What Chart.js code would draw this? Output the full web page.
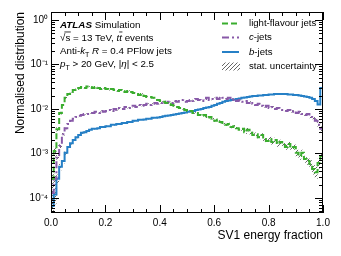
<!DOCTYPE html>
<html><head><meta charset="utf-8">
<script src="https://cdn.jsdelivr.net/npm/chart.js@4/dist/chart.umd.min.js"></script>
<style>html,body{margin:0;padding:0;background:#fff;}canvas{display:block;}</style>
</head><body>
<canvas id="c" width="341" height="256" style="width:341px;height:256px"></canvas>
<script>
// ---- data (bins of width 0.01 on [0,1]) ----
const binEdges = Array.from({length: 101}, (_, i) => i / 100);
const seriesLabels = ['light-flavour jets', 'c-jets', 'b-jets', 'stat. uncertainty'];
const xTickValues = [0, 0.2, 0.4, 0.6, 0.8, 1.0];
const xTickLabels = ['0.0', '0.2', '0.4', '0.6', '0.8', '1.0'];
const yTickValues = [1e-4, 1e-3, 1e-2, 1e-1, 1];
const yTickLabels = ['10⁻⁴', '10⁻³', '10⁻²', '10⁻¹', '10⁰'];

const lightJets = [
 0.00027,0.00114,0.0035,0.0081,0.0123,0.0177,0.0217,0.0241,0.0267,0.0281,
 0.0296,0.0312,0.0296,0.0320,0.0312,0.0296,0.0312,0.0296,0.0281,0.0296,
 0.0281,0.0267,0.0281,0.0267,0.0254,0.0267,0.0254,0.0241,0.0254,0.0241,
 0.0229,0.0217,0.0206,0.0217,0.0196,0.0186,0.0186,0.0177,0.0168,0.0159,
 0.0151,0.0144,0.0136,0.0130,0.0123,0.0117,0.0111,0.0105,0.0100,0.0095,
 0.0090,0.0090,0.0081,0.0081,0.0073,0.0070,0.0073,0.0063,0.0066,0.0060,
 0.0054,0.0057,0.0051,0.0048,0.0044,0.0046,0.0039,0.0041,0.0037,0.0034,
 0.0036,0.0030,0.0034,0.0029,0.0026,0.0027,0.0023,0.0026,0.0021,0.0019,
 0.0021,0.0018,0.0020,0.00163,0.0018,0.00155,0.00140,0.00163,0.00133,0.00140,
 0.00103,0.00088,0.00103,0.00075,0.00068,0.00058,0.00045,0.00038,0.00061,0.00088
];
const cJets = [
 0.00013,0.00027,0.00080,0.00147,0.0027,0.0037,0.0046,0.0054,0.0060,0.0066,
 0.0070,0.0073,0.0077,0.0077,0.0081,0.0081,0.0086,0.0081,0.0090,0.0086,
 0.0090,0.0095,0.0090,0.0100,0.0095,0.0105,0.0100,0.0111,0.0105,0.0111,
 0.0117,0.0111,0.0123,0.0117,0.0123,0.0130,0.0123,0.0130,0.0136,0.0130,
 0.0136,0.0144,0.0136,0.0144,0.0136,0.0151,0.0144,0.0151,0.0159,0.0144,
 0.0151,0.0159,0.0151,0.0168,0.0159,0.0151,0.0168,0.0177,0.0159,0.0168,
 0.0177,0.0168,0.0186,0.0177,0.0168,0.0177,0.0159,0.0168,0.0151,0.0159,
 0.0144,0.0151,0.0136,0.0144,0.0130,0.0123,0.0130,0.0117,0.0111,0.0117,
 0.0105,0.0111,0.0100,0.0105,0.0095,0.0095,0.0090,0.0095,0.0086,0.0090,
 0.0081,0.0086,0.0077,0.0073,0.0077,0.0066,0.0063,0.0054,0.0044,0.0036
];
const bJets = [
 0.000066,0.00012,0.00027,0.00050,0.00068,0.00103,0.00140,0.0017,0.0020,0.0023,
 0.0026,0.0029,0.0030,0.0032,0.0034,0.0036,0.0036,0.0037,0.0039,0.0039,
 0.0041,0.0041,0.0044,0.0044,0.0046,0.0046,0.0048,0.0048,0.0051,0.0051,
 0.0054,0.0054,0.0057,0.0057,0.0058,0.0060,0.0060,0.0063,0.0063,0.0064,
 0.0066,0.0068,0.0070,0.0071,0.0073,0.0075,0.0077,0.0079,0.0081,0.0083,
 0.0086,0.0088,0.0090,0.0095,0.0097,0.0100,0.0105,0.0108,0.0111,0.0117,
 0.0123,0.0130,0.0136,0.0144,0.0151,0.0155,0.0159,0.0163,0.0168,0.0172,
 0.0177,0.0181,0.0186,0.0191,0.0196,0.0196,0.0201,0.0201,0.0206,0.0206,
 0.0212,0.0212,0.0217,0.0217,0.0217,0.0217,0.0217,0.0212,0.0212,0.0206,
 0.0206,0.0201,0.0196,0.0191,0.0186,0.0177,0.0168,0.0151,0.0125,0.0296
];
// relative statistical uncertainty per bin
const lightErr = [
 0.45,0.25,0.12,0.07,0.05,0.04,0.035,0.03,0.03,0.03,
 0.03,0.03,0.03,0.03,0.03,0.03,0.03,0.03,0.03,0.03,
 0.03,0.03,0.03,0.03,0.03,0.03,0.03,0.03,0.03,0.03,
 0.03,0.03,0.03,0.03,0.03,0.03,0.03,0.03,0.03,0.03,
 0.03,0.03,0.03,0.03,0.03,0.03,0.03,0.03,0.03,0.03,
 0.04,0.04,0.04,0.04,0.04,0.04,0.04,0.04,0.04,0.04,
 0.06,0.06,0.06,0.06,0.06,0.06,0.06,0.06,0.06,0.06,
 0.09,0.09,0.09,0.09,0.09,0.09,0.09,0.09,0.09,0.09,
 0.13,0.13,0.13,0.13,0.13,0.13,0.13,0.13,0.13,0.13,
 0.18,0.18,0.18,0.18,0.18,0.22,0.25,0.30,0.25,0.20
];
const cErr = [
 0.50,0.30,0.15,0.10,0.07,0.05,0.045,0.04,0.035,0.03,
 0.025,0.025,0.025,0.025,0.025,0.025,0.025,0.025,0.025,0.025,
 0.025,0.025,0.025,0.025,0.025,0.025,0.025,0.025,0.025,0.025,
 0.025,0.025,0.025,0.025,0.025,0.025,0.025,0.025,0.025,0.025,
 0.025,0.025,0.025,0.025,0.025,0.025,0.025,0.025,0.025,0.025,
 0.025,0.025,0.025,0.025,0.025,0.025,0.025,0.025,0.025,0.025,
 0.025,0.025,0.025,0.025,0.025,0.025,0.025,0.025,0.025,0.025,
 0.03,0.03,0.03,0.03,0.03,0.03,0.03,0.03,0.03,0.03,
 0.03,0.03,0.03,0.03,0.03,0.04,0.04,0.04,0.04,0.04,
 0.04,0.04,0.04,0.04,0.04,0.06,0.07,0.09,0.12,0.12
];
const bErr = [
 0.55,0.40,0.25,0.16,0.12,0.09,0.07,0.06,0.05,0.045,
 0.04,0.04,0.04,0.04,0.04,0.04,0.04,0.04,0.04,0.04,
 0.03,0.03,0.03,0.03,0.03,0.03,0.03,0.03,0.03,0.03,
 0.03,0.03,0.03,0.03,0.03,0.03,0.03,0.03,0.03,0.03,
 0.03,0.03,0.03,0.03,0.03,0.03,0.03,0.03,0.03,0.03,
 0.02,0.02,0.02,0.02,0.02,0.02,0.02,0.02,0.02,0.02,
 0.02,0.02,0.02,0.02,0.02,0.02,0.02,0.02,0.02,0.02,
 0.02,0.02,0.02,0.02,0.02,0.02,0.02,0.02,0.02,0.02,
 0.02,0.02,0.02,0.02,0.02,0.02,0.02,0.02,0.02,0.02,
 0.02,0.02,0.02,0.02,0.02,0.02,0.02,0.02,0.02,0.03
];

// ---- styles ----
const FONT = '"Liberation Sans", Arial, Helvetica, sans-serif';
const colLight = '#3aad2e', colC = '#8859a8', colB = '#2680c6';

const canvas = document.getElementById('c');
const ctx = canvas.getContext('2d');

// hatch pattern for the uncertainty bands
const pc = document.createElement('canvas');
pc.width = 4; pc.height = 4;
const pctx = pc.getContext('2d');
pctx.strokeStyle = '#555'; pctx.lineWidth = 0.9;
pctx.beginPath();
pctx.moveTo(0, 4); pctx.lineTo(4, 0);
pctx.moveTo(-1, 1); pctx.lineTo(1, -1);
pctx.moveTo(3, 5); pctx.lineTo(5, 3);
pctx.stroke();
const hatch = ctx.createPattern(pc, 'repeat');

function histPoints(vals, factor) {
  const pts = [];
  vals.forEach((v, i) => {
    const y = factor ? v * factor[i] : v;
    pts.push({x: binEdges[i], y: y});
    pts.push({x: binEdges[i + 1], y: y});
  });
  return pts;
}
function scaled(errs, sign) { return errs.map(e => 1 + sign * e); }

function lineDs(label, vals, color, dash) {
  return {label, data: histPoints(vals), borderColor: color, borderWidth: 2, borderDash: dash,
    pointRadius: 0, fill: false, tension: 0, borderCapStyle: 'butt', borderJoinStyle: 'miter'};
}
function bandLow(vals, errs) {
  return {label: '', data: histPoints(vals, scaled(errs, -1)), borderWidth: 0, borderColor: 'rgba(0,0,0,0)',
    pointRadius: 0, fill: false, tension: 0};
}
function bandHigh(vals, errs) {
  return {label: '', data: histPoints(vals, scaled(errs, 1)), borderWidth: 0, borderColor: 'rgba(0,0,0,0)',
    backgroundColor: hatch, pointRadius: 0, fill: '-1', tension: 0};
}

const dashLight = [6, 3], dashC = [7, 3, 2, 3];

function drawRich(c, x, y, segs, size) {
  let cx = x;
  for (const s of segs) {
    const fs = (s.sub || s.sup) ? size * 0.72 : size;
    c.font = `${s.style || ''} ${fs}px ${FONT}`;
    const dy = s.sub ? size * 0.3 : (s.sup ? -size * 0.4 : 0);
    c.fillText(s.t, cx, y + dy);
    const w = c.measureText(s.t).width;
    if (s.over) {
      c.beginPath();
      c.lineWidth = 0.8;
      c.moveTo(cx - (s.overPre || 0), y - size * 0.92);
      c.lineTo(cx + w + 0.5, y - size * 0.92);
      c.stroke();
    }
    cx += w;
  }
}

const decorPlugin = {
  id: 'decor',
  afterDraw(chart) {
    const c = chart.ctx, a = chart.chartArea;
    const xs = chart.scales.x, ys = chart.scales.y;
    c.save();
    c.strokeStyle = '#000'; c.fillStyle = '#000'; c.lineWidth = 1;
    // frame
    c.strokeRect(Math.round(a.left) + 0.5, Math.round(a.top) + 0.5, Math.round(a.right - a.left) - 1, Math.round(a.bottom - a.top) - 1);
    // x ticks
    c.beginPath();
    for (let k = 0; k <= 20; k++) {
      const v = k * 0.05;
      const px = Math.round(xs.getPixelForValue(v)) + 0.5;
      const len = (k % 4 === 0) ? 8 : 4;
      c.moveTo(px, a.bottom); c.lineTo(px, a.bottom - len);
      c.moveTo(px, a.top); c.lineTo(px, a.top + len);
    }
    // y ticks
    for (let n = -5; n <= 0; n++) {
      for (let k = 1; k <= 9; k++) {
        const v = k * Math.pow(10, n);
        if (v < ys.min || v > ys.max) continue;
        const py = Math.round(ys.getPixelForValue(v)) + 0.5;
        const len = (k === 1) ? 8 : 4;
        c.moveTo(a.left, py); c.lineTo(a.left + len, py);
        c.moveTo(a.right, py); c.lineTo(a.right - len, py);
      }
    }
    c.stroke();

    // annotation
    const fs = 9.8, ax = a.left + 9;
    c.textBaseline = 'alphabetic'; c.textAlign = 'left';
    drawRich(c, ax, 28, [{t: 'ATLAS', style: 'italic bold'}, {t: ' Simulation'}], fs);
    drawRich(c, ax, 41, [{t: '√'}, {t: 's', over: true, overPre: 1}, {t: ' = 13 TeV, '}, {t: 't', style: 'italic'}, {t: 't', style: 'italic', over: true}, {t: ' events'}], fs);
    drawRich(c, ax, 54, [{t: 'Anti-'}, {t: 'k', style: 'italic'}, {t: 'T', sub: true}, {t: ' '}, {t: 'R', style: 'italic'}, {t: ' = 0.4 PFlow jets'}], fs);
    drawRich(c, ax, 67, [{t: 'p', style: 'italic'}, {t: 'T', sub: true}, {t: ' > 20 GeV, |'}, {t: 'η', style: 'italic'}, {t: '| < 2.5'}], fs);

    // legend
    const lfs = 9.6;
    const lx0 = 222, lx1 = 239, tx = 249;
    const rows = [
      {label: seriesLabels[0], color: colLight, dash: dashLight, y: 23.5},
      {label: seriesLabels[1], color: colC, dash: dashC, y: 37.5},
      {label: seriesLabels[2], color: colB, dash: [], y: 52},
    ];
    c.font = `${lfs}px ${FONT}`;
    c.textBaseline = 'middle';
    rows.forEach(r => {
      c.save();
      c.strokeStyle = r.color; c.lineWidth = 2; c.setLineDash(r.dash);
      c.beginPath(); c.moveTo(lx0, r.y); c.lineTo(lx1, r.y); c.stroke();
      c.restore();
      const parts = r.label.split('-');
      if (r.label === 'c-jets' || r.label === 'b-jets') {
        c.font = `italic ${lfs}px ${FONT}`;
        c.fillText(parts[0], tx, r.y);
        const w = c.measureText(parts[0]).width;
        c.font = `${lfs}px ${FONT}`;
        c.fillText('-' + parts.slice(1).join('-'), tx + w, r.y);
      } else {
        c.fillText(r.label, tx, r.y);
      }
    });
    const hy = 66.5;
    c.fillStyle = hatch;
    c.fillRect(lx0, hy - 4, lx1 - lx0 + 1, 8);
    c.fillStyle = '#000';
    c.fillText(seriesLabels[3], tx, hy);
    c.restore();
  }
};

new Chart(ctx, {
  type: 'line',
  data: {
    datasets: [
      lineDs(seriesLabels[0], lightJets, colLight, dashLight),
      lineDs(seriesLabels[1], cJets, colC, dashC),
      lineDs(seriesLabels[2], bJets, colB, []),
      bandLow(lightJets, lightErr), bandHigh(lightJets, lightErr),
      bandLow(cJets, cErr), bandHigh(cJets, cErr),
      bandLow(bJets, bErr), bandHigh(bJets, bErr)
    ]
  },
  options: {
    responsive: false,
    devicePixelRatio: 1,
    animation: false,
    parsing: true,
    layout: {padding: {top: 12, right: 18, left: 0, bottom: 0}},
    plugins: {legend: {display: false}, tooltip: {enabled: false}, filler: {propagate: false}},
    scales: {
      x: {
        type: 'linear', min: 0, max: 1,
        afterFit(s) { s.height = 43; },
        afterBuildTicks(s) { s.ticks = xTickValues.map(v => ({value: v})); },
        ticks: {autoSkip: false, maxRotation: 0, padding: 4, color: '#000', font: {size: 10, family: FONT},
          callback(v) { const i = xTickValues.findIndex(t => Math.abs(t - v) < 1e-9); return i >= 0 ? xTickLabels[i] : ''; }},
        grid: {display: false, drawTicks: false},
        border: {display: false},
        title: {display: true, text: 'SV1 energy fraction', align: 'end', color: '#000',
          font: {size: 12, family: FONT}, padding: {top: 0, bottom: 13}}
      },
      y: {
        type: 'logarithmic', min: 4.6e-5, max: 1.5,
        afterFit(s) { s.width = 51; },
        afterBuildTicks(s) { s.ticks = yTickValues.map(v => ({value: v})); },
        ticks: {autoSkip: false, padding: 3, color: '#000', font: {size: 10, family: FONT},
          callback(v) { const i = yTickValues.findIndex(t => Math.abs(t - v) / t < 1e-6); return i >= 0 ? yTickLabels[i] : ''; }},
        grid: {display: false, drawTicks: false},
        border: {display: false},
        title: {display: true, text: 'Normalised distribution', align: 'end', color: '#000',
          font: {size: 12, family: FONT}, padding: {top: 13, bottom: 0}}
      }
    }
  },
  plugins: [decorPlugin]
});
</script>
</body></html>
